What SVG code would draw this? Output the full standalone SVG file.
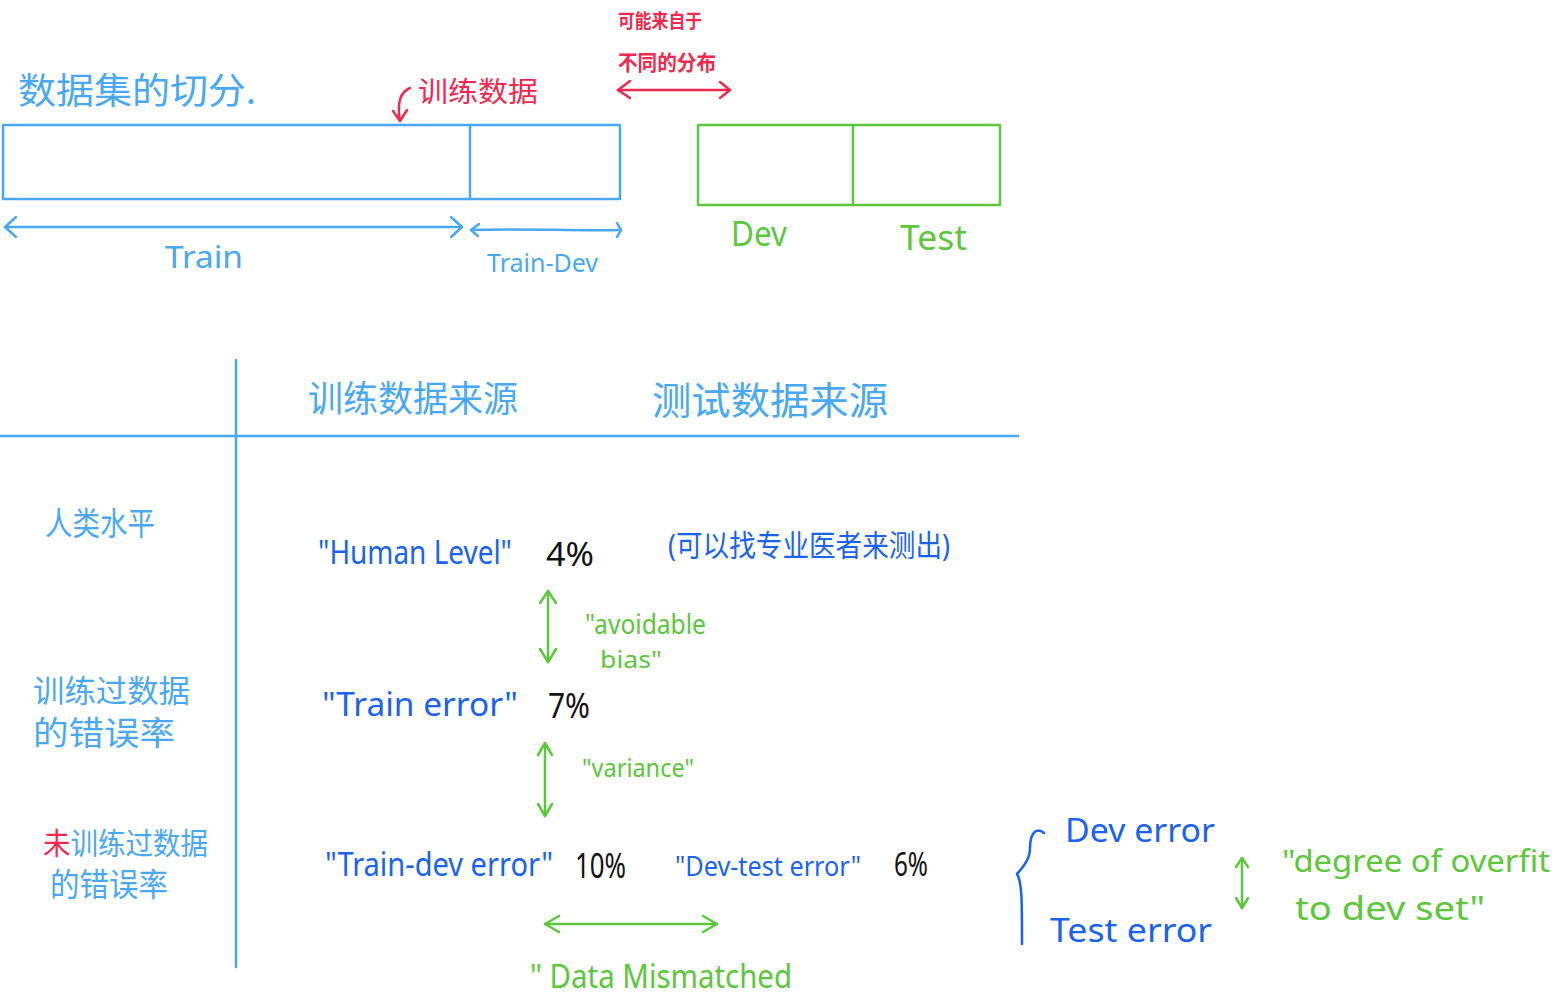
<svg xmlns="http://www.w3.org/2000/svg" width="1558" height="1000" viewBox="0 0 1558 1000">
<style>
text{font-family:"Noto Sans","Noto Sans CJK SC",sans-serif;}
.lb{fill:#4aa8f2;}
.bl{fill:#1a62f0;}
.gr{fill:#5cc63c;}
.rd{fill:#f2284e;}
.bk{fill:#111;}
.sl{stroke:#4aa8f2;stroke-width:2.5;fill:none;stroke-linecap:round;stroke-linejoin:round;}
.sg{stroke:#5cc63c;stroke-width:2.5;fill:none;stroke-linecap:round;stroke-linejoin:round;}
.sr{stroke:#f2284e;stroke-width:2.5;fill:none;stroke-linecap:round;stroke-linejoin:round;}
.sb{stroke:#1a62f0;stroke-width:2.5;fill:none;stroke-linecap:round;stroke-linejoin:round;}
</style>
<rect width="1558" height="1000" fill="#fff"/>

<g id="title">
<text class="lb" x="18" y="104" font-size="36" textLength="238" lengthAdjust="spacingAndGlyphs">数据集的切分.</text>
</g>

<g id="train-data-note">
<text class="rd" x="418" y="102" font-size="28" textLength="120" lengthAdjust="spacingAndGlyphs">训练数据</text>
</g>

<g id="dist-note">
<text class="rd" x="618" y="28" font-size="19" font-weight="bold" textLength="84" lengthAdjust="spacingAndGlyphs">可能来自于</text>
<text class="rd" x="618" y="70" font-size="21" font-weight="bold" textLength="98" lengthAdjust="spacingAndGlyphs">不同的分布</text>
</g>

<g id="train-box">
<rect class="sl" x="3" y="125" width="617" height="74"/>
<line class="sl" x1="470" y1="125" x2="470" y2="199"/>
</g>

<g id="devtest-box">
<rect class="sg" x="698" y="125" width="302" height="80"/>
<line class="sg" x1="853" y1="125" x2="853" y2="205"/>
</g>

<g id="labels-top">
<text class="lb" x="165" y="268" font-size="30" textLength="78" lengthAdjust="spacingAndGlyphs">Train</text>
<text class="lb" x="487" y="272" font-size="26" textLength="111" lengthAdjust="spacingAndGlyphs">Train-Dev</text>
<text class="gr" x="731" y="246" font-size="34" textLength="56" lengthAdjust="spacingAndGlyphs">Dev</text>
<text class="gr" x="900" y="250" font-size="34" textLength="67" lengthAdjust="spacingAndGlyphs">Test</text>
</g>

<g id="table">
<line class="sl" x1="236" y1="360" x2="236" y2="967"/>
<line class="sl" x1="0" y1="436" x2="1018" y2="436"/>
<text class="lb" x="308" y="412" font-size="36" textLength="210" lengthAdjust="spacingAndGlyphs">训练数据来源</text>
<text class="lb" x="652" y="414" font-size="38" textLength="236" lengthAdjust="spacingAndGlyphs">测试数据来源</text>
</g>

<g id="row-labels">
<text class="lb" x="45" y="535" font-size="32" textLength="110" lengthAdjust="spacingAndGlyphs">人类水平</text>
<text class="lb" x="33" y="702" font-size="31" textLength="157" lengthAdjust="spacingAndGlyphs">训练过数据</text>
<text class="lb" x="33" y="745" font-size="33" textLength="142" lengthAdjust="spacingAndGlyphs">的错误率</text>
<text x="43" y="854" font-size="30" textLength="165" lengthAdjust="spacingAndGlyphs"><tspan class="rd">未</tspan><tspan class="lb">训练过数据</tspan></text>
<text class="lb" x="50" y="896" font-size="32" textLength="118" lengthAdjust="spacingAndGlyphs">的错误率</text>
</g>

<g id="human-level">
<text class="bl" x="318" y="564" font-size="33" textLength="194" lengthAdjust="spacingAndGlyphs">"Human Level"</text>
<text class="bk" x="546" y="566" font-size="33" textLength="48" lengthAdjust="spacingAndGlyphs">4%</text>
<text class="bl" x="668" y="556" font-size="30" textLength="282" lengthAdjust="spacingAndGlyphs">(可以找专业医者来测出)</text>
</g>

<g id="train-error">
<text class="bl" x="322" y="716" font-size="32" textLength="196" lengthAdjust="spacingAndGlyphs">"Train error"</text>
<text class="bk" x="548" y="718" font-size="34" textLength="42" lengthAdjust="spacingAndGlyphs">7%</text>
</g>

<g id="train-dev-error">
<text class="bl" x="325" y="876" font-size="32" textLength="228" lengthAdjust="spacingAndGlyphs">"Train-dev error"</text>
<text class="bk" x="575" y="878" font-size="34" textLength="51" lengthAdjust="spacingAndGlyphs">10%</text>
</g>

<g id="dev-test-error">
<text class="bl" x="675" y="876" font-size="28" textLength="186" lengthAdjust="spacingAndGlyphs">"Dev-test error"</text>
<text class="bk" x="894" y="876" font-size="33" textLength="34" lengthAdjust="spacingAndGlyphs">6%</text>
</g>

<g id="avoidable-bias">
<text class="gr" x="585" y="634" font-size="28" textLength="121" lengthAdjust="spacingAndGlyphs">"avoidable</text>
<text class="gr" x="600" y="668" font-size="24" textLength="62" lengthAdjust="spacingAndGlyphs">bias"</text>
</g>

<g id="variance">
<text class="gr" x="582" y="777" font-size="26" textLength="112" lengthAdjust="spacingAndGlyphs">"variance"</text>
</g>

<g id="data-mismatched">
<text class="gr" x="530" y="988" font-size="32" textLength="262" lengthAdjust="spacingAndGlyphs">" Data  Mismatched</text>
</g>

<g id="dev-test-pair">
<path class="sb" d="M1044,833 C1036,826 1030,834 1030,848 C1030,860 1022,868 1017,874 C1022,882 1022,900 1022,944"/>
<text class="bl" x="1065" y="842" font-size="32" textLength="150" lengthAdjust="spacingAndGlyphs">Dev  error</text>
<text class="bl" x="1050" y="942" font-size="32" textLength="162" lengthAdjust="spacingAndGlyphs">Test   error</text>
</g>

<g id="overfit">
<text class="gr" x="1282" y="872" font-size="31" textLength="268" lengthAdjust="spacingAndGlyphs">"degree of  overfit</text>
<text class="gr" x="1295" y="920" font-size="32" textLength="190" lengthAdjust="spacingAndGlyphs">to  dev  set"</text>
</g>

<g id="connectors">
<path class="sr" d="M410,88 C400,92 397,104 400,121"/>
<path class="sr" d="M393,111 L400,121 L407,110"/>
<path class="sr" d="M618,90 L730,90"/>
<path class="sr" d="M630,81 L618,90 L630,98"/>
<path class="sr" d="M720,82 L730,90 L720,98"/>
<path class="sl" d="M5,227 L462,227"/>
<path class="sl" d="M16,217 L5,227 L16,237"/>
<path class="sl" d="M451,217 L462,227 L451,237"/>
<path class="sl" d="M471,230 C520,228 570,231 621,230"/>
<path class="sl" d="M479,224 L471,230 L478,236"/>
<path class="sl" d="M617,223 L621,230 L617,237"/>
<path class="sg" d="M548,591 L548,662"/>
<path class="sg" d="M540,603 L548,591 L556,603"/>
<path class="sg" d="M540,649 L548,662 L556,649"/>
<path class="sg" d="M545,743 L545,816"/>
<path class="sg" d="M538,755 L545,743 L552,755"/>
<path class="sg" d="M538,804 L545,816 L552,804"/>
<path class="sg" d="M545,924 L717,924"/>
<path class="sg" d="M559,916 L545,924 L559,932"/>
<path class="sg" d="M703,916 L717,924 L703,932"/>
<path class="sg" d="M1242,858 L1242,908"/>
<path class="sg" d="M1236,867 L1242,858 L1248,867"/>
<path class="sg" d="M1236,898 L1242,908 L1248,898"/>
</g>
</svg>
